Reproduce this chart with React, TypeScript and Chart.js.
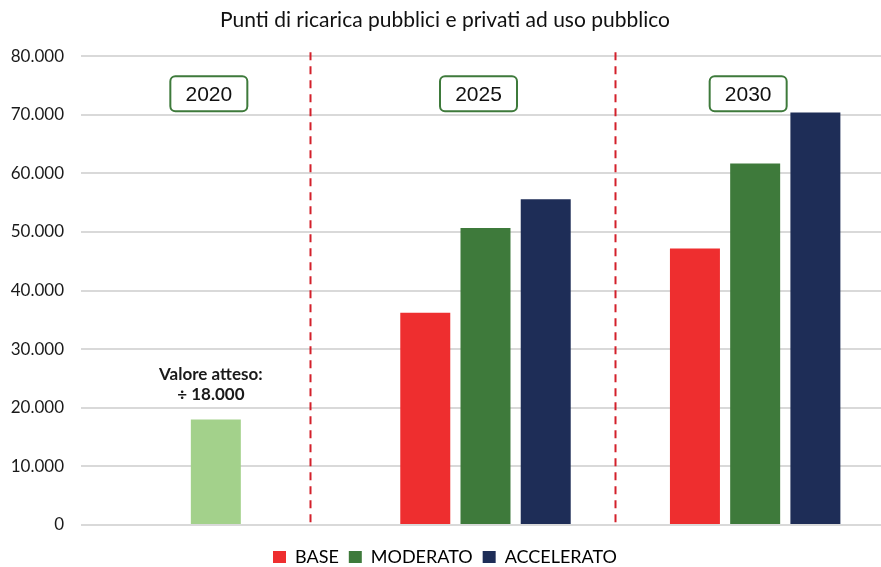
import React, { useEffect, useRef } from "react";
import { Chart, registerables } from "chart.js";

Chart.register(...registerables);

const title = "Punti di ricarica pubblici e privati ad uso pubblico";
const categories = ["2020", "2025", "2030"];
const seriesNames = ["BASE", "MODERATO", "ACCELERATO"];
const baseValues = [null, 36200, 47200];
const moderatoValues = [18000, 50700, 61700];
const accelValues = [null, 55600, 70400];
const yMax = 80000;
const yStep = 10000;
const noteLines = ["Valore atteso:", "÷ 18.000"];

const colors = {
  base: "#ee2e2f",
  moderato: "#3e7a3b",
  accel: "#1e2d57",
  expected: "#a3d18b",
  dash: "#d3202b",
  grid: "#d9d9d9",
  text: "#1a1a1a",
};

const fmt = (v: number) => String(v).replace(/\B(?=(\d{3})+(?!\d))/g, ".");

const annotationPlugin = {
  id: "annots",
  afterDatasetsDraw(chart: any) {
    const { ctx, chartArea, scales } = chart;
    const x = scales.x;
    const y = scales.y;
    ctx.save();
    ctx.strokeStyle = colors.dash;
    ctx.lineWidth = 2;
    ctx.setLineDash([8, 6]);
    [0.35, 1.48].forEach((v) => {
      const px = Math.round(x.getPixelForValue(v)) + 0.5;
      ctx.beginPath();
      ctx.moveTo(px, chartArea.top - 4);
      ctx.lineTo(px, chartArea.bottom + 2);
      ctx.stroke();
    });
    ctx.setLineDash([]);
    const cy = y.getPixelForValue(73600);
    categories.forEach((c, i) => {
      const cx = x.getPixelForValue(i) - 7;
      const w = 77;
      const h = 35;
      ctx.beginPath();
      ctx.roundRect(cx - w / 2, cy - h / 2, w, h, 5);
      ctx.fillStyle = "#ffffff";
      ctx.fill();
      ctx.strokeStyle = colors.moderato;
      ctx.lineWidth = 2;
      ctx.stroke();
      ctx.fillStyle = "#111";
      ctx.font = "21px 'Liberation Sans', Arial, sans-serif";
      ctx.textAlign = "center";
      ctx.textBaseline = "middle";
      ctx.fillText(c, cx, cy + 1);
    });
    const nx = x.getPixelForValue(0) - 5;
    ctx.fillStyle = "#1a1a1a";
    ctx.font = "bold 17px Lato, sans-serif";
    ctx.textAlign = "center";
    ctx.textBaseline = "middle";
    ctx.fillText(noteLines[0], nx, y.getPixelForValue(25600));
    ctx.fillText(noteLines[1], nx, y.getPixelForValue(22200));
    ctx.restore();
  },
};

export default function App() {
  const ref = useRef<HTMLCanvasElement>(null);
  useEffect(() => {
    if (!ref.current) return;
    const chart = new Chart(ref.current, {
      type: "bar",
      data: {
        labels: categories,
        datasets: [
          { label: seriesNames[0], data: baseValues, backgroundColor: colors.base },
          {
            label: seriesNames[1],
            data: moderatoValues,
            backgroundColor: [colors.expected, colors.moderato, colors.moderato],
          },
          { label: seriesNames[2], data: accelValues, backgroundColor: colors.accel },
        ],
      },
      options: {
        animation: false,
        responsive: true,
        maintainAspectRatio: false,
        layout: { padding: { left: 0, right: 2, top: 0, bottom: -9 } },
        datasets: {
          bar: { categoryPercentage: 0.67, barPercentage: 0.83 },
        },
        scales: {
          x: {
            grid: { display: false },
            border: { display: false },
            ticks: { display: false },
            afterFit: (s: any) => {
              s.height = 13;
            },
          },
          y: {
            min: 0,
            max: yMax,
            border: { display: false },
            grid: { color: colors.grid, lineWidth: 2, drawTicks: false },
            ticks: {
              stepSize: yStep,
              padding: 17,
              color: colors.text,
              font: { family: "Lato, sans-serif", size: 17 },
              callback: (v: any) => fmt(Number(v)),
            },
            afterFit: (s: any) => {
              s.width = 81;
            },
          },
        },
        plugins: {
          title: {
            display: true,
            text: title,
            color: "#111",
            font: { family: "Lato, sans-serif", size: 21, weight: "normal" },
            padding: { top: 8, bottom: 23 },
          },
          legend: {
            position: "bottom",
            labels: {
              color: "#111",
              font: { family: "Lato, sans-serif", size: 18 },
              boxWidth: 13,
              boxHeight: 12,
              padding: 10,
              generateLabels: () =>
                seriesNames.map((n, i) => ({
                  text: n,
                  fillStyle: [colors.base, colors.moderato, colors.accel][i],
                  strokeStyle: "transparent",
                  lineWidth: 0,
                  datasetIndex: i,
                  hidden: false,
                })),
            },
          },
          tooltip: { enabled: false },
        },
      },
      plugins: [annotationPlugin],
    });
    return () => chart.destroy();
  }, []);
  return (
    <div
      style={{
        position: "fixed",
        left: 0,
        top: 0,
        width: 881,
        height: 567,
        overflow: "hidden",
        background: "#fff",
      }}
    >
      <div style={{ position: "relative", width: 892, height: 567 }}>
        <canvas ref={ref} />
      </div>
    </div>
  );
}
